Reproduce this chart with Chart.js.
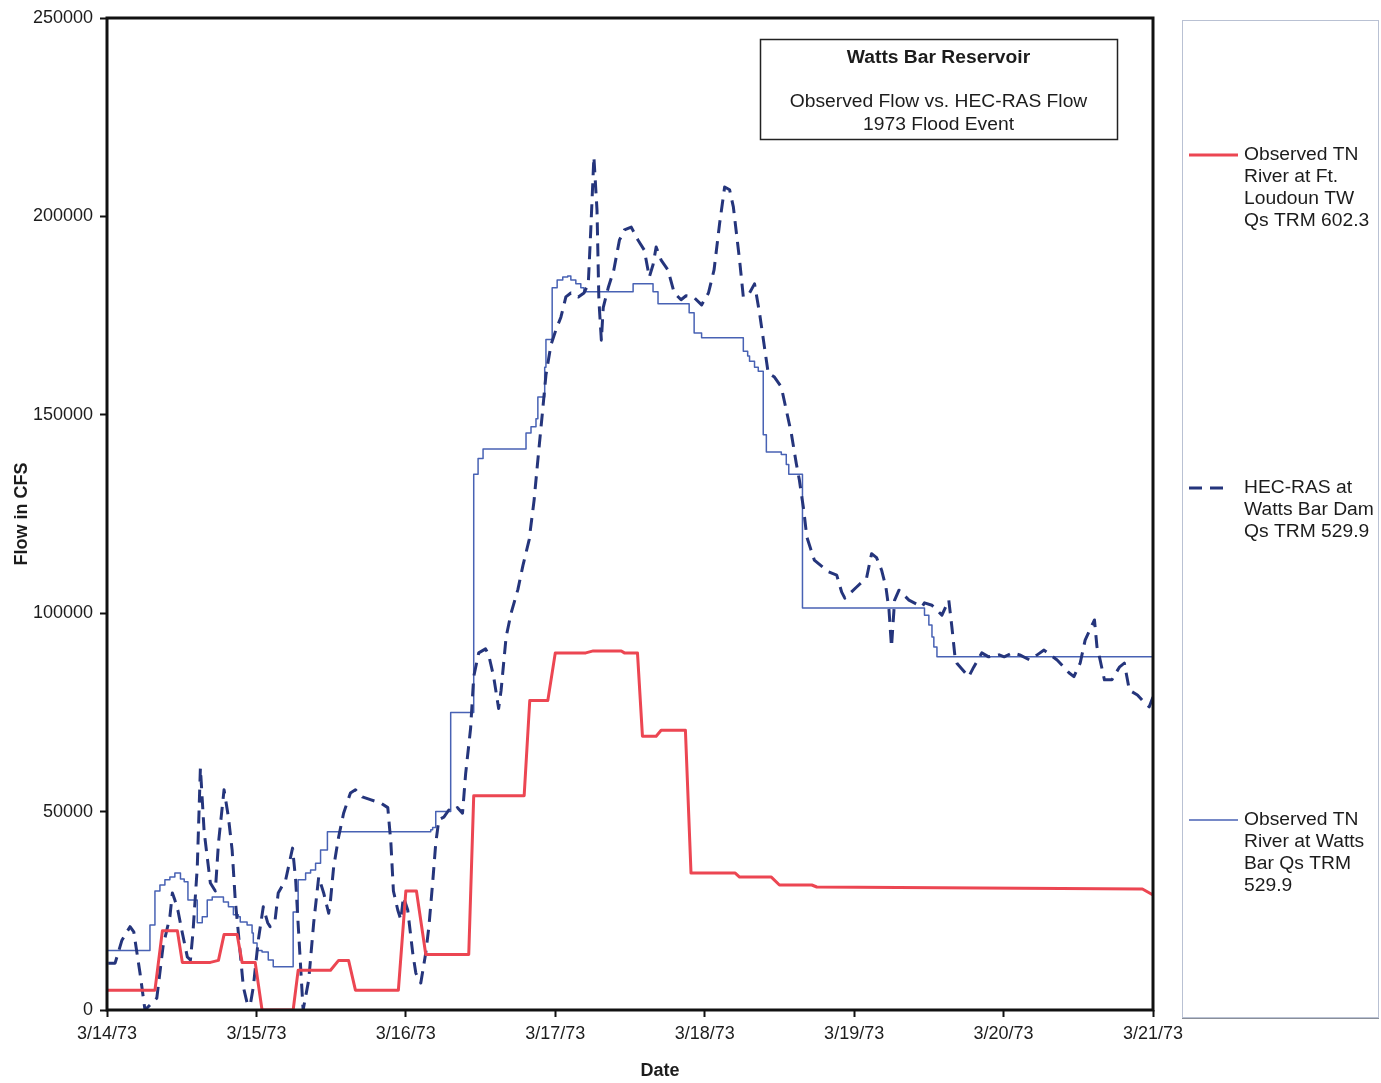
<!DOCTYPE html>
<html>
<head>
<meta charset="utf-8">
<title>Watts Bar Reservoir - 1973 Flood Event</title>
<script src="https://cdn.jsdelivr.net/npm/chart.js@4.4.1/dist/chart.umd.min.js"></script>
<style>
  html, body { margin: 0; padding: 0; background: #fff; }
  #wrap { position: relative; width: 1381px; height: 1083px; }
</style>
</head>
<body>
<div id="wrap"><canvas id="flowChart"></canvas></div>
<script>
// x values are hours after 3/14/73 00:00, flows in cfs
var dateLabels = ['3/14/73', '3/15/73', '3/16/73', '3/17/73', '3/18/73', '3/19/73', '3/20/73', '3/21/73'];

// Observed TN River at Ft. Loudoun TW, Qs TRM 602.3
var loudounHours = [0, 7.7, 8.9, 11.3, 12.1, 16.6, 17.9, 18.8, 20.9, 21.7, 23.8, 24.9, 29.9, 30.7, 35.9,
  37.2, 38.8, 39.9, 46.8, 48.0, 49.7, 51.2, 58.1, 58.9, 67.0, 67.9, 70.8, 72.0, 76.9, 78.1,
  82.6, 83.1, 85.2, 86.0, 88.2, 89.0, 92.9, 93.8, 100.9, 101.6, 106.7, 108.0, 113.2, 114.0, 166.3, 168.0];
var loudounFlow = [5000, 5000, 20000, 20000, 12000, 12000, 12500, 19000, 19000, 12000, 12000, 0, 0, 10000, 10000,
  12500, 12500, 5000, 5000, 30000, 30000, 14000, 14000, 54000, 54000, 78000, 78000, 90000, 90000, 90500,
  90500, 90000, 90000, 69000, 69000, 70500, 70500, 34500, 34500, 33500, 33500, 31500, 31500, 31000, 30500, 29000];

// HEC-RAS at Watts Bar Dam, Qs TRM 529.9
var hecRasHours = [0.2, 1.3, 2.4, 3.7, 4.3, 5.3, 6.1, 8.0, 9.0, 10.1,
  10.5, 10.9, 11.4, 12.1, 12.9, 13.4, 13.8, 14.5, 15.0, 15.6,
  16.6, 17.4, 17.9, 18.5, 18.8, 19.5, 20.1, 20.6, 21.1, 21.9,
  22.5, 23.0, 23.5, 24.3, 25.1, 25.8, 26.2, 27.0, 27.5, 28.7,
  29.8, 30.3, 30.6, 31.1, 31.5, 32.4, 33.2, 34.0, 34.8, 35.6,
  35.9, 36.4, 37.2, 38.0, 39.1, 39.9, 41.0, 42.3, 43.9, 45.1,
  45.6, 46.0, 46.7, 47.2, 47.6, 48.3, 49.1, 49.6, 50.4, 51.2,
  51.7, 52.3, 52.8, 53.3, 54.1, 54.9, 55.2, 56.3, 57.1, 57.6,
  58.4, 58.9, 59.7, 60.8, 61.3, 62.1, 62.9, 63.3, 64.1, 64.9,
  66.0, 66.8, 67.8, 68.6, 69.2, 69.9, 70.5, 71.3, 72.1, 72.9,
  73.7, 74.5, 75.7, 76.6, 77.3, 77.7, 78.2, 78.7, 79.0, 79.4,
  79.7, 80.5, 81.4, 82.3, 83.1, 84.2, 85.3, 86.3, 87.1, 87.7,
  88.2, 89.0, 90.1, 91.1, 92.2, 93.0, 94.2, 95.5, 96.6, 97.5,
  98.4, 99.2, 100.0, 100.6, 101.6, 102.2, 103.2, 104.0, 104.8, 105.6,
  106.2, 107.2, 108.3, 109.1, 109.9, 110.7, 111.2, 111.9, 112.4, 113.6,
  115.9, 117.2, 118.0, 118.5, 120.4, 122.0, 122.8, 123.6, 124.4, 125.1,
  125.6, 126.0, 126.5, 127.2, 128.8, 130.9, 131.3, 132.5, 134.1, 135.2,
  135.7, 136.2, 136.5, 138.4, 139.2, 140.5, 141.6, 143.3, 144.1, 145.4,
  146.6, 148.2, 149.4, 150.5, 151.5, 152.6, 154.5, 155.3, 156.3, 157.1,
  158.6, 159.0, 159.4, 160.2, 161.4, 162.6, 163.4, 164.2, 165.5, 166.3,
  167.4, 168.0];
var hecRasFlow = [11800, 11800, 17600, 21000, 19700, 9300, 0, 3000, 16000, 23500,
  29500, 27700, 25000, 19400, 13400, 12600, 19400, 36000, 61000, 45000,
  32000, 30000, 42000, 51000, 55500, 48600, 40300, 27700, 19400, 5800,
  1800, 1200, 5800, 17600, 26000, 22000, 21000, 22700, 29500, 32800,
  40800, 32800, 24400, 10800, 0, 7600, 22000, 33500, 29500, 24400,
  27700, 36000, 43600, 49600, 54700, 55500, 53700, 53000, 52200, 51000,
  42000, 30000, 25200, 22700, 28500, 25200, 14400, 9300, 6800, 14400,
  21000, 32000, 42000, 48000, 48600, 50400, 50000, 51000, 49600, 59500,
  71000, 84000, 90000, 91000, 89500, 84000, 76000, 80600, 94000, 100000,
  106000, 112000, 118500, 128500, 138600, 150000, 160000, 167600, 171400, 174600,
  179700, 180700, 179700, 180700, 183000, 196600, 215000, 201600, 179000, 168800,
  177000, 182000, 186500, 194000, 196600, 197300, 194000, 191500, 184700, 187800,
  192300, 189000, 186500, 180700, 179000, 180000, 179700, 177700, 180700, 186500,
  198300, 207400, 206700, 202400, 189000, 179700, 180700, 183000, 175700, 167000,
  160500, 159500, 157000, 151200, 145400, 137800, 133600, 126000, 119200, 113400,
  110400, 109600, 105300, 103800, 106600, 108900, 115000, 114000, 110900, 106600,
  100800, 91500, 103300, 105800, 103300, 101600, 102600, 102000, 99500, 103300,
  96500, 89000, 87400, 84000, 86400, 90000, 89000, 89500, 89000, 90000,
  89500, 88200, 89500, 90700, 89500, 88200, 85000, 84000, 87400, 93200,
  98300, 91500, 89000, 83200, 83200, 86400, 87400, 80600, 79400, 78000,
  76400, 78900];

// Observed TN River at Watts Bar, Qs TRM 529.9 (each value holds until the next hour listed)
var wattsBarHours = [0, 6.9, 7.7, 8.5, 9.3, 10.1, 10.9, 11.8, 12.4, 13.0,
  14.5, 15.3, 16.1, 16.9, 18.7, 19.5, 20.3, 21.1, 21.4, 22.5,
  23.3, 23.5, 24.1, 24.9, 25.9, 26.7, 29.9, 30.7, 31.9, 32.7,
  33.5, 34.3, 35.4, 52.0, 52.3, 52.8, 55.2, 58.9, 59.6, 60.4,
  67.3, 68.1, 68.9, 69.2, 70.3, 70.5, 71.5, 72.3, 73.2, 74.0,
  74.5, 75.3, 76.1, 76.6, 84.5, 87.7, 88.5, 93.5, 94.3, 95.5,
  102.2, 102.9, 103.2, 104.0, 104.6, 105.4, 105.9, 108.3, 109.1, 109.5,
  111.7, 131.3, 132.0, 132.5, 132.8, 133.3, 168.0];
var wattsBarFlow = [15000, 21400, 30000, 31500, 32800, 33500, 34500, 33000, 32300, 27700,
  22000, 23500, 27700, 28500, 27200, 26000, 24000, 23500, 22200, 21400,
  19400, 16900, 15000, 14600, 12600, 10900, 24700, 32800, 34500, 35300,
  37000, 40300, 44900, 45400, 46000, 50000, 75000, 135000, 139000, 141400,
  145400, 147000, 149000, 154500, 162000, 169000, 182000, 184000, 184700, 185000,
  184000, 183000, 182000, 181000, 183000, 181000, 178000, 175700, 170600, 169400,
  166000, 164800, 163500, 162000, 161000, 145000, 140600, 140000, 137500, 135000,
  101300, 99500, 97000, 94000, 91500, 89000, 89000];

function toPoints(hours, flow) {
  return hours.map(function (h, i) { return { x: h, y: flow[i] }; });
}

var FONT = '"Liberation Sans", Arial, sans-serif';
var TEXT = '#1c1c1c';

Chart.defaults.font.family = FONT;
Chart.defaults.font.size = 18;
Chart.defaults.color = TEXT;

// slightly widened text, like the rest of the sheet
function wideText(ctx, str, x, y) {
  ctx.save();
  ctx.translate(x, y);
  ctx.scale(1.07, 1);
  ctx.fillText(str, 0, 0);
  ctx.restore();
}

// frame round the plot, the title box, the legend panel and the x axis caption
var decorations = {
  id: 'decorations',
  afterDatasetsDraw: function (chart) {
    var ctx = chart.ctx, a = chart.chartArea;
    ctx.save();
    ctx.strokeStyle = '#111';
    ctx.lineWidth = 3;
    ctx.strokeRect(a.left, a.top, a.right - a.left, a.bottom - a.top);
    ctx.restore();
  },
  afterDraw: function (chart) {
    var ctx = chart.ctx;
    ctx.save();

    // title box inside the plot
    ctx.fillStyle = '#fff';
    ctx.fillRect(760, 39, 357, 100);
    ctx.strokeStyle = '#222';
    ctx.lineWidth = 1.5;
    ctx.strokeRect(760.5, 39.5, 357, 100);
    ctx.fillStyle = TEXT;
    ctx.textAlign = 'center';
    ctx.textBaseline = 'middle';
    ctx.font = 'bold 18px ' + FONT;
    wideText(ctx, 'Watts Bar Reservoir', 938.5, 58);
    ctx.font = '18px ' + FONT;
    wideText(ctx, 'Observed Flow vs. HEC-RAS Flow', 938.5, 102);
    wideText(ctx, '1973 Flood Event', 938.5, 125);

    // x axis caption
    ctx.font = 'bold 18px ' + FONT;
    ctx.fillText('Date', 660, 1071);

    // legend panel
    ctx.strokeStyle = '#b9c1d3';
    ctx.lineWidth = 1;
    ctx.strokeRect(1182.5, 20.5, 196, 997);
    ctx.strokeStyle = '#8a8f99';
    ctx.beginPath();
    ctx.moveTo(1182, 1018.5);
    ctx.lineTo(1379, 1018.5);
    ctx.stroke();

    var rowTops = [155, 488, 820];
    ctx.textAlign = 'left';
    ctx.font = '18px ' + FONT;
    chart.data.datasets.forEach(function (ds, i) {
      var y = rowTops[i];
      ctx.strokeStyle = ds.borderColor;
      ctx.lineWidth = ds.borderWidth;
      ctx.setLineDash(ds.borderDash || []);
      ctx.beginPath();
      ctx.moveTo(1189, y);
      ctx.lineTo(ds.borderDash ? 1230 : 1238, y);
      ctx.stroke();
      ctx.setLineDash([]);
      ctx.fillStyle = TEXT;
      ds.legendLines.forEach(function (line, j) {
        wideText(ctx, line, 1244, y + j * 22);
      });
    });
    ctx.restore();
  }
};

var chart = new Chart(document.getElementById('flowChart'), {
  type: 'line',
  data: {
    datasets: [{
      label: 'Observed TN River at Ft. Loudoun TW Qs TRM 602.3',
      legendLines: ['Observed TN', 'River at Ft.', 'Loudoun TW', 'Qs TRM 602.3'],
      data: toPoints(loudounHours, loudounFlow),
      borderColor: '#ec4652',
      borderWidth: 3
    }, {
      label: 'HEC-RAS at Watts Bar Dam Qs TRM 529.9',
      legendLines: ['HEC-RAS at', 'Watts Bar Dam', 'Qs TRM 529.9'],
      data: toPoints(hecRasHours, hecRasFlow),
      borderColor: '#25357c',
      borderWidth: 3,
      borderDash: [13, 8]
    }, {
      label: 'Observed TN River at Watts Bar Qs TRM 529.9',
      legendLines: ['Observed TN', 'River at Watts', 'Bar Qs TRM', '529.9'],
      data: toPoints(wattsBarHours, wattsBarFlow),
      borderColor: '#4862b4',
      borderWidth: 1.5,
      stepped: 'before'
    }]
  },
  options: {
    responsive: true,
    maintainAspectRatio: false,
    devicePixelRatio: 1,
    animation: false,
    layout: { padding: { left: 0, top: 18, right: 228, bottom: 0 } },
    elements: {
      point: { radius: 0, hoverRadius: 0 },
      line: { tension: 0, fill: false, borderCapStyle: 'butt', borderJoinStyle: 'round' }
    },
    plugins: {
      legend: { display: false },
      tooltip: { enabled: false }
    },
    scales: {
      x: {
        type: 'linear',
        min: 0,
        max: 168,
        afterFit: function (scale) { scale.height = 73; },
        afterBuildTicks: function (scale) {
          scale.ticks = dateLabels.map(function (d, i) { return { value: i * 24 }; });
        },
        ticks: {
          autoSkip: false,
          maxRotation: 0,
          padding: 6,
          color: TEXT,
          callback: function (v) { return dateLabels[Math.round(v / 24)]; }
        },
        grid: { drawOnChartArea: false, tickLength: 7, tickColor: '#111', tickWidth: 2 },
        border: { display: false }
      },
      y: {
        min: 0,
        max: 250000,
        afterFit: function (scale) { scale.width = 107; },
        ticks: {
          stepSize: 50000,
          padding: 7,
          color: TEXT,
          callback: function (v) { return String(v); }
        },
        grid: { drawOnChartArea: false, tickLength: 7, tickColor: '#111', tickWidth: 2 },
        border: { display: false },
        title: {
          display: true,
          text: 'Flow in CFS',
          color: TEXT,
          font: { size: 18, weight: 'bold' },
          padding: { top: 11, bottom: 0 }
        }
      }
    }
  },
  plugins: [decorations]
});
</script>
</body>
</html>
